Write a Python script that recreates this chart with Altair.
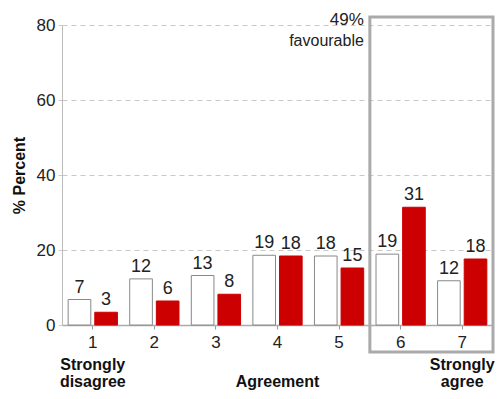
import altair as alt
import pandas as pd

levels = ["1", "2", "3", "4", "5", "6", "7"]
series = ["Group A", "Group B"]
white_vals = [6.8, 12.3, 13.2, 18.6, 18.4, 18.9, 11.8]
red_vals = [3.4, 6.4, 8.2, 18.4, 15.2, 31.4, 17.6]

bottom_top = ["Strongly", "", "", "", "", "", "Strongly"]
bottom_bottom = ["disagree", "", "", "Agreement", "", "", "agree"]

box_start, box_end = 5, 7
box_line1 = "49%"
box_line2 = "favourable"

rows = []
for i, lv in enumerate(levels):
    rows.append({"level": lv, "series": series[0], "value": white_vals[i]})
    rows.append({"level": lv, "series": series[1], "value": red_vals[i]})
df = pd.DataFrame(rows)

ann = pd.DataFrame({"level": levels, "top": bottom_top, "bottom": bottom_bottom})

FONT = "Liberation Sans"
W, H = 431, 300

xscale = alt.Scale(domain=levels, paddingInner=0.2, paddingOuter=0.1)
yscale = alt.Scale(domain=[0, 80])

xaxis = alt.Axis(title=None, labelAngle=0, labelFontSize=17, labelFont=FONT,
                 labelColor="#222", tickSize=4, tickColor="#999", labelPadding=5,
                 domainColor="#aaa", domainWidth=1.5, grid=False)
yaxis = alt.Axis(title="% Percent", values=[0, 20, 40, 60, 80], labelFontSize=17,
                 labelFont=FONT, labelColor="#222", tickSize=4, tickColor="#ccc",
                 domainColor="#bbb", grid=True, gridDash=[5, 4], gridColor="#c8c8c8",
                 titleFont=FONT, titleFontSize=16, titleFontWeight="bold",
                 titleColor="#111", titlePadding=9, labelPadding=3)

base = alt.Chart(df).encode(
    x=alt.X("level:N", scale=xscale, axis=xaxis, sort=levels),
    xOffset=alt.XOffset("series:N", scale=alt.Scale(domain=series, paddingInner=0.15)),
    y=alt.Y("value:Q", scale=yscale, axis=yaxis),
)

bars = base.mark_bar(strokeWidth=1).encode(
    fill=alt.Fill("series:N", scale=alt.Scale(domain=series, range=["#ffffff", "#cc0000"]), legend=None),
    stroke=alt.Stroke("series:N", scale=alt.Scale(domain=series, range=["#888888", "#cc0000"]), legend=None),
)

labels = base.mark_text(baseline="bottom", dy=-3, fontSize=18, font=FONT, color="#222").encode(
    text=alt.Text("value:Q", format=".0f")
)

ann1 = alt.Chart(ann).mark_text(baseline="alphabetic", fontSize=16, font=FONT,
                                fontWeight="bold", color="#111").encode(
    x=alt.X("level:N", scale=xscale, sort=levels),
    y=alt.value(345),
    text="top:N",
)
ann2 = alt.Chart(ann).mark_text(baseline="alphabetic", fontSize=16, font=FONT,
                                fontWeight="bold", color="#111").encode(
    x=alt.X("level:N", scale=xscale, sort=levels),
    y=alt.value(362),
    text="bottom:N",
)

main = alt.layer(bars, labels, ann1, ann2)

qx = alt.Scale(domain=[0, 7])
boxdf = pd.DataFrame({"start": [box_start], "end": [box_end],
                      "l1": [box_line1], "l2": [box_line2]})
box = alt.Chart(boxdf).mark_rect(fill=None, stroke="#aaaaaa", strokeWidth=3).encode(
    x=alt.X("start:Q", scale=qx, axis=None),
    x2="end:Q",
    y=alt.value(-8),
    y2=alt.value(327),
)
t1 = alt.Chart(boxdf).mark_text(align="right", baseline="alphabetic", dx=-6,
                                fontSize=17, font=FONT, color="#222").encode(
    x=alt.X("start:Q", scale=qx, axis=None), y=alt.value(0), text="l1:N")
t2 = alt.Chart(boxdf).mark_text(align="right", baseline="alphabetic", dx=-6,
                                fontSize=16, font=FONT, color="#222").encode(
    x=alt.X("start:Q", scale=qx, axis=None), y=alt.value(21), text="l2:N")

boxlayer = alt.layer(box, t1, t2)

chart = alt.layer(main, boxlayer).resolve_scale(x="independent").properties(
    width=W, height=H,
    autosize=alt.AutoSizeParams(type="none"),
    padding={"left": 54, "top": 17, "right": 2, "bottom": 66},
).configure_view(stroke=None)

chart.save("out.html", embed_options={"renderer": "svg", "actions": False})
